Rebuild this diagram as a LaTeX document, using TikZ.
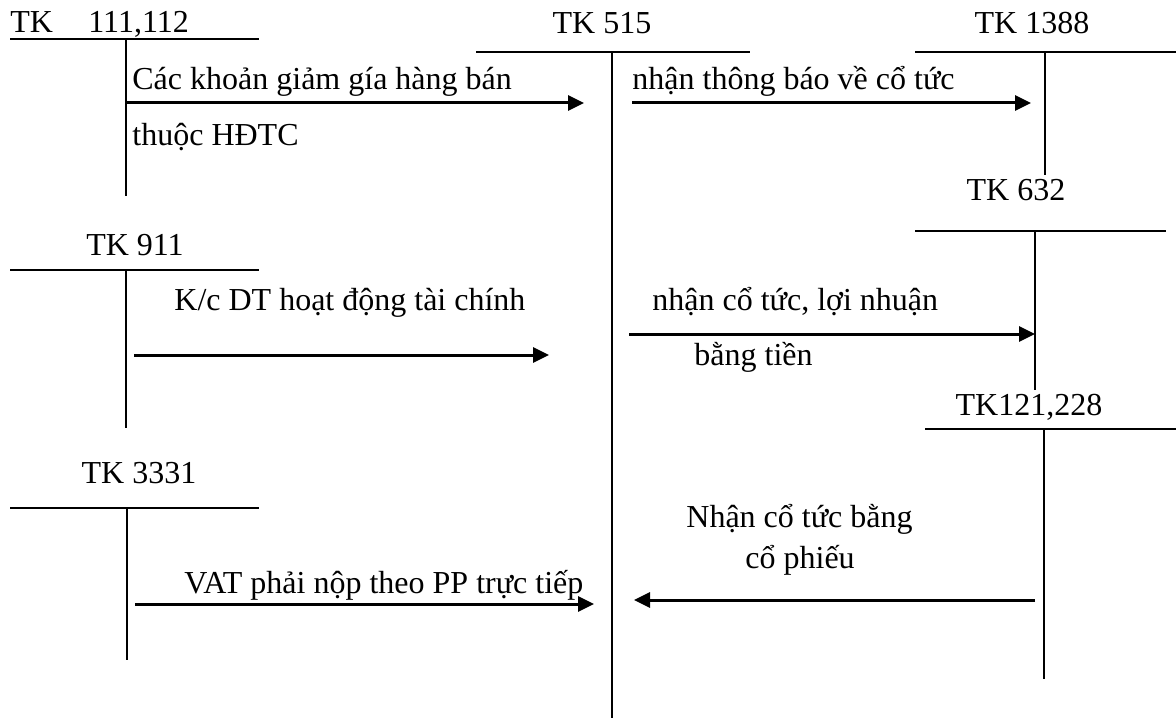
\documentclass[tikz,border=0pt]{standalone}
\usepackage{fontspec}
\setmainfont{Liberation Serif}
\usetikzlibrary{arrows.meta}
\begin{document}
\begin{tikzpicture}[x=0.5pt,y=-0.5pt,
  lbl/.style={anchor=base west,inner sep=0pt,font=\fontsize{16pt}{19pt}\selectfont},
  ttl/.style={anchor=base,inner sep=0pt,font=\fontsize{16pt}{19pt}\selectfont},
  tline/.style={line width=1.1pt},
  flow/.style={line width=1.5pt,-{Triangle[length=8pt,width=7.5pt]}}]
\useasboundingbox (0,0) rectangle (1176,727);

% T-accounts
\draw[tline] (10,39) -- (259,39) (126,39) -- (126,196);
\draw[tline] (476,52) -- (750,52) (612,52) -- (612,718);
\draw[tline] (915,52) -- (1176,52) (1045,52) -- (1045,175);
\draw[tline] (915,231) -- (1166,231) (1035,231) -- (1035,390);
\draw[tline] (10,270) -- (259,270) (126,270) -- (126,428);
\draw[tline] (925,429) -- (1176,429) (1044,429) -- (1044,679);
\draw[tline] (10,508) -- (259,508) (127,508) -- (127,660);

% titles
\node[lbl] (t111a) at (10,33) {TK};
\node[lbl] (t111b) at (88,33) {111,112};
\node[ttl] (t515) at (602,34) {TK 515};
\node[ttl] (t1388) at (1032,34) {TK 1388};
\node[ttl] (t632) at (1016,200) {TK 632};
\node[ttl] (t911) at (135,255) {TK 911};
\node[ttl] (t121) at (1029,415) {TK121,228};
\node[ttl] (t3331) at (139,483) {TK 3331};

% arrow end points
\coordinate (a1s) at (126,103); \coordinate (a1e) at (584,103);
\coordinate (a2s) at (632,103); \coordinate (a2e) at (1031,103);
\coordinate (a3s) at (134,355); \coordinate (a3e) at (549,355);
\coordinate (a4s) at (629,334); \coordinate (a4e) at (1035,334);
\coordinate (a5s) at (135,604); \coordinate (a5e) at (594,604);
\coordinate (a6s) at (1035,600); \coordinate (a6e) at (634,600);

\draw[flow] (a1s) -- (a1e);
\draw[flow] (a2s) -- (a2e);
\draw[flow] (a3s) -- (a3e);
\draw[flow] (a4s) -- (a4e);
\draw[flow] (a5s) -- (a5e);
\draw[flow] (a6s) -- (a6e);

% labels
\node[lbl] (l1a) at (132,90) {Các khoản giảm gía hàng bán};
\node[lbl] (l1b) at (132,146) {thuộc HĐTC};
\node[lbl] (l2) at (632,90) {nhận thông báo về cổ tức};
\node[lbl] (l3) at (174,310) {K/c DT hoạt động tài chính};
\node[lbl] (l4a) at (652,310) {nhận cổ tức, lợi nhuận};
\node[lbl] (l4b) at (694,365) {bằng tiền};
\node[lbl] (l6a) at (686,527) {Nhận cổ tức bằng};
\node[lbl] (l6b) at (745,568) {cổ phiếu};
\node[lbl] (l5) at (184,593) {VAT phải nộp theo PP trực tiếp};
\end{tikzpicture}
\end{document}
